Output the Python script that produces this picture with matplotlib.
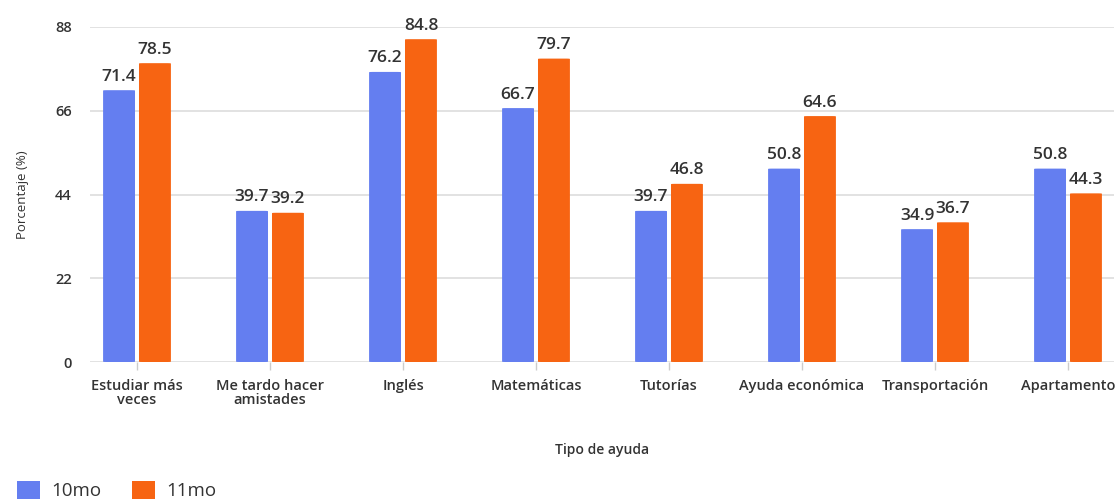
import matplotlib
matplotlib.use("Agg")
import matplotlib.pyplot as plt
import numpy as np
from matplotlib.patches import FancyBboxPatch, Patch

plt.rcParams['font.family'] = ['Open Sans', 'DejaVu Sans']

categories = ["Estudiar más\nveces", "Me tardo hacer\namistades", "Inglés", "Matemáticas",
              "Tutorías", "Ayuda económica", "Transportación", "Apartamento"]
series_names = ["10mo", "11mo"]
values_10 = [71.4, 39.7, 76.2, 66.7, 39.7, 50.8, 34.9, 50.8]
values_11 = [78.5, 39.2, 84.8, 79.7, 46.8, 64.6, 36.7, 44.3]
yticks = [0, 22, 44, 66, 88]

c_blue = "#647ef0"
c_orange = "#f76412"
text_c = "#333333"

W, H = 1119, 503
fig = plt.figure(figsize=(W/100, H/100), dpi=100)
ax = fig.add_axes([90/W, (H-362)/H, (1114-90)/W, (362-27)/H])

x = np.arange(len(categories))
bw = 0.24
off = 0.135

def rounded_bars(xs, vals, color):
    bars = ax.bar(xs, vals, width=bw, color=color, zorder=3)
    for b in bars:
        b.set_visible(False)
        bx, by = b.get_x(), b.get_y()
        w, h = b.get_width(), b.get_height()
        p = FancyBboxPatch((bx, by), w, h, boxstyle="round,pad=0,rounding_size=0.025",
                           mutation_aspect=3.5, facecolor=color, edgecolor='none', zorder=3)
        ax.add_patch(p)
    for xi, v in zip(xs, vals):
        ax.annotate(f"{v}", (xi, v), xytext=(0, 4), textcoords="offset points",
                    ha="center", va="bottom", fontsize=12.5, color=text_c, fontweight='semibold')
    return bars

rounded_bars(x - off, values_10, c_blue)
rounded_bars(x + off, values_11, c_orange)

ax.set_ylim(0, 88)
ax.set_xlim((90-137)/133, (1114-137)/133)
ax.set_yticks(yticks)
ax.set_yticklabels([str(t) for t in yticks], fontsize=10.5, color=text_c, fontweight='semibold')
ax.set_xticks(x)
ax.set_xticklabels(categories, fontsize=10.5, color=text_c, fontweight='semibold', linespacing=1.0)
ax.yaxis.grid(True, color="#dddddd", linewidth=1.2, zorder=0)
ax.set_axisbelow(True)
for s in ax.spines.values():
    s.set_visible(False)
ax.tick_params(axis='y', length=0, pad=13)
ax.tick_params(axis='x', length=6, color="#cccccc", width=1, pad=6)

ax.set_ylabel("Porcentaje (%)", fontsize=9.5, color=text_c, labelpad=19)
ax.set_xlabel("Tipo de ayuda", fontsize=10, color=text_c, fontweight='semibold', labelpad=26)

handles = [Patch(facecolor=c_blue, edgecolor='none'), Patch(facecolor=c_orange, edgecolor='none')]
fig.legend(handles, series_names, loc='lower left', bbox_to_anchor=(0/W, -14/H),
           frameon=False, fontsize=13.5, handlelength=1.25, handleheight=1.1,
           ncol=2, columnspacing=1.6, handletextpad=0.6, labelcolor=text_c)

fig.savefig("out.png", dpi=100)
